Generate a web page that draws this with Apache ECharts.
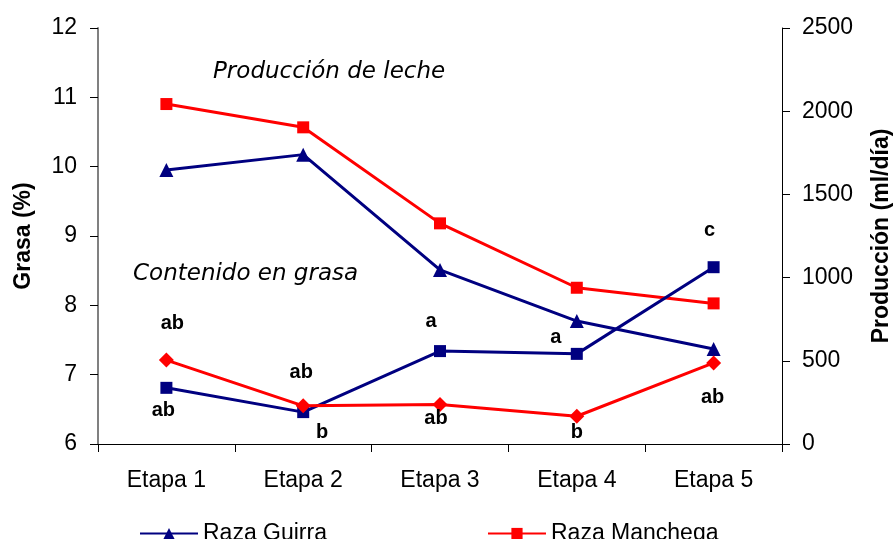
<!DOCTYPE html>
<html>
<head>
<meta charset="utf-8">
<script src="https://cdn.jsdelivr.net/npm/echarts@6/dist/echarts.min.js"></script>
<style>
  html,body{margin:0;padding:0;background:#fff;}
  #chart{width:894px;height:539px;}
</style>
</head>
<body>
<div id="chart"></div>
<script>
  var etapas = ['Etapa 1', 'Etapa 2', 'Etapa 3', 'Etapa 4', 'Etapa 5'];
  // produccion de leche (ml/dia), eje derecho
  var prodGuirra = [1647, 1739, 1046, 739, 571];
  var prodManchega = [2043, 1903, 1326, 939, 845];
  // contenido en grasa (%), eje izquierdo
  var grasaGuirra = [6.81, 6.46, 7.34, 7.30, 8.55];
  var grasaManchega = [7.21, 6.55, 6.57, 6.40, 7.17];
  // letras de significacion
  var letrasGuirra = ['ab', 'b', 'a', 'a', 'c'];
  var letrasManchega = ['ab', 'ab', 'ab', 'b', 'ab'];

  var navy = '#000080', red = '#ff0000';
  var font = 'Liberation Sans, Arial, sans-serif';

  // desplazamiento de cada letra respecto a su punto
  var offGuirra = [[-3, 23], [19, 20], [-9, -30], [-21, -16], [-4, -37]];
  var offManchega = [[6, -37], [-2, -33], [-4, 14], [0, 16], [-1, 35]];

  function withLetters(values, letters, offs) {
    return values.map(function (v, i) {
      return {
        value: v,
        label: {
          show: true, position: 'inside', offset: offs[i],
          formatter: letters[i], color: '#000', fontWeight: 'bold',
          fontSize: 20, fontFamily: font
        }
      };
    });
  }

  var myChart = echarts.init(document.getElementById('chart'));
  var option = {
    animation: false,
    grid: { left: 98, right: 112, top: 28, bottom: 95, outerBoundsMode: 'none' },
    legend: {
      data: ['Raza Guirra', 'Raza Manchega'],
      top: 517,
      left: 134,
      itemWidth: 58,
      itemHeight: 14,
      itemGap: 160,
      textStyle: { fontSize: 23, color: '#000', fontFamily: font }
    },
    xAxis: {
      type: 'category',
      data: etapas,
      axisLine: { lineStyle: { color: '#000', width: 1 } },
      axisTick: { show: true, length: 8, lineStyle: { color: '#000' } },
      axisLabel: { fontSize: 23, color: '#000', fontFamily: font, margin: 25 }
    },
    yAxis: [{
      type: 'value', min: 6, max: 12, interval: 1,
      name: 'Grasa (%)', nameLocation: 'middle', nameRotate: 90, nameGap: 63,
      nameTextStyle: { fontSize: 23, fontWeight: 'bold', color: '#000', fontFamily: font },
      axisLine: { show: true, lineStyle: { color: '#808080', width: 2 } },
      axisTick: { show: true, length: 8, lineStyle: { color: '#000' } },
      axisLabel: { fontSize: 23, color: '#000', fontFamily: font, margin: 21 },
      splitLine: { show: false }
    }, {
      type: 'value', min: 0, max: 2500, interval: 500, position: 'right',
      name: 'Producción (ml/día)', nameLocation: 'middle', nameRotate: 90, nameGap: 88,
      nameTextStyle: { fontSize: 23, fontWeight: 'bold', color: '#000', fontFamily: font },
      axisLine: { show: true, lineStyle: { color: '#000', width: 1 } },
      axisTick: { show: true, length: 8, lineStyle: { color: '#000' } },
      axisLabel: { fontSize: 23, color: '#000', fontFamily: font, margin: 20,
        formatter: function (v) { return String(v); } },
      splitLine: { show: false }
    }],
    graphic: [{
      type: 'text', left: 213, top: 61,
      style: { text: 'Producción de leche', fontSize: 23, fontStyle: 'italic',
        fontFamily: 'DejaVu Sans, Verdana, sans-serif', fill: '#000' }
    }, {
      type: 'text', left: 133, top: 263,
      style: { text: 'Contenido en grasa', fontSize: 23, fontStyle: 'italic',
        fontFamily: 'DejaVu Sans, Verdana, sans-serif', fill: '#000' }
    }],
    series: [{
      name: 'Raza Guirra', type: 'line', yAxisIndex: 1, data: prodGuirra,
      symbol: 'triangle', symbolSize: 14,
      itemStyle: { color: navy }, lineStyle: { color: navy, width: 3 }
    }, {
      name: 'Raza Manchega', type: 'line', yAxisIndex: 1, data: prodManchega,
      symbol: 'rect', symbolSize: 12,
      itemStyle: { color: red }, lineStyle: { color: red, width: 3 }
    }, {
      name: 'Grasa Guirra', type: 'line', yAxisIndex: 0,
      data: withLetters(grasaGuirra, letrasGuirra, offGuirra),
      symbol: 'rect', symbolSize: 12,
      itemStyle: { color: navy }, lineStyle: { color: navy, width: 3 }
    }, {
      name: 'Grasa Manchega', type: 'line', yAxisIndex: 0,
      data: withLetters(grasaManchega, letrasManchega, offManchega),
      symbol: 'diamond', symbolSize: 15,
      itemStyle: { color: red }, lineStyle: { color: red, width: 3 }
    }]
  };
  myChart.setOption(option);
</script>
</body>
</html>
